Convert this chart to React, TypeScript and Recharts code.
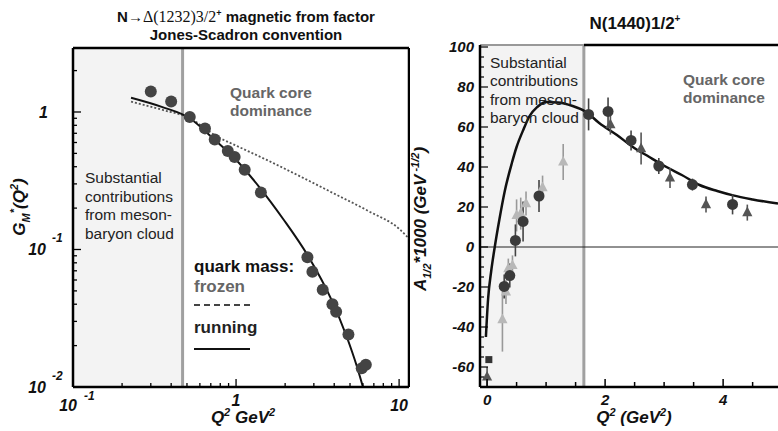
import React from "react";
import {
  ComposedChart,
  Line,
  Scatter,
  XAxis,
  YAxis,
  ReferenceArea,
  ReferenceLine,
  ErrorBar,
} from "recharts";

const FONT = "'Liberation Sans', Arial, Helvetica, sans-serif";

// ---- left panel: N -> Delta(1232) magnetic form factor (log-log) ----
const gmQ2 = [0.3, 0.4, 0.52, 0.645, 0.74, 0.89, 0.98, 1.13, 1.42, 2.74, 2.94, 3.4, 3.9, 4.11, 4.89, 5.9, 6.25];
const gmValue = [1.41, 1.19, 0.92, 0.76, 0.63, 0.52, 0.47, 0.38, 0.26, 0.0878, 0.069, 0.051, 0.04, 0.0353, 0.0241, 0.0137, 0.0145];

// running quark mass (solid)
const runningQ2 = [0.227, 0.35, 0.52, 0.72, 0.96, 1.4, 1.95, 2.8, 3.78, 4.78, 5.5, 6.0];
const runningValue = [1.27, 1.09, 0.9, 0.645, 0.473, 0.281, 0.166, 0.0875, 0.0451, 0.0231, 0.0142, 0.01];

// frozen quark mass (dotted)
const frozenQ2 = [0.227, 0.35, 0.52, 0.77, 1.0, 1.53, 2.5, 3.97, 6.5, 10.1, 11.5];
const frozenValue = [1.19, 1.04, 0.9, 0.66, 0.57, 0.45, 0.338, 0.256, 0.19, 0.14, 0.12];

const leftXTicks = [0.1, 0.2, 0.3, 0.4, 0.5, 0.6, 0.7, 0.8, 0.9, 1, 2, 3, 4, 5, 6, 7, 8, 9, 10];
const leftXMajor = [0.1, 1, 10];
const leftXLabels = [["10", "-1"], ["1", ""], ["10", ""]];
const leftYTicks = [0.01, 0.02, 0.03, 0.04, 0.05, 0.06, 0.07, 0.08, 0.09, 0.1, 0.2, 0.3, 0.4, 0.5, 0.6, 0.7, 0.8, 0.9, 1, 2];
const leftYMajor = [0.01, 0.1, 1];
const leftYLabels = [["10", "-2"], ["10", "-1"], ["1", ""]];

// ---- right panel: N(1440)1/2+ helicity amplitude A1/2 ----
const circleQ2 = [0.29, 0.385, 0.48, 0.61, 0.88, 1.72, 2.05, 2.44, 2.91, 3.48, 4.16];
const circleA = [-19.7, -14.3, 3.3, 12.8, 25.5, 66.3, 67.8, 53.3, 40.5, 31.2, 21.3];
const circleErr = [6, 6, 8, 10, 8, 8, 7, 5, 4, 3, 5];

const darkTriQ2 = [0.0, 2.09, 2.61, 3.1, 3.71, 4.41];
const darkTriA = [-65, 61.2, 49.2, 34.5, 21.2, 17.2];
const darkTriErr = [5, 5, 8, 5, 4, 4];

const lightTriQ2 = [0.26, 0.32, 0.36, 0.43, 0.5, 0.57, 0.66, 0.94, 1.29];
const lightTriA = [-36.3, -22.5, -10.8, -9.2, 15.8, 16.7, 21.7, 29.7, 42.5];
const lightTriErr = [16, 6, 5, 5, 8, 8, 6, 6, 9];

const squareQ2 = [0.03];
const squareA = [-56.3];

const curveQ2 = [-0.02, 0.017, 0.07, 0.13, 0.21, 0.3, 0.42, 0.5, 0.62, 0.72, 0.85, 1.0, 1.2, 1.45, 1.68, 1.9, 2.2, 2.47, 2.75, 3.04, 3.3, 3.6, 3.9, 4.17, 4.5, 4.93];
const curveA = [-45, -26, -12, 0, 14, 28, 42, 50, 59, 65.5, 70, 72.5, 72.3, 70.5, 67.5, 62, 56, 50, 45, 40, 36, 31, 28, 25.8, 23.8, 21.7];

const rightXTicks = [0, 0.5, 1, 1.5, 2, 2.5, 3, 3.5, 4, 4.5];
const rightXMajor = [0, 2, 4];
const rightYTicks = [-65, -60, -55, -50, -45, -40, -35, -30, -25, -20, -15, -10, -5, 0, 5, 10, 15, 20, 25, 30, 35, 40, 45, 50, 55, 60, 65, 70, 75, 80, 85, 90, 95, 100];
const rightYMajor = [-60, -40, -20, 0, 20, 40, 60, 80, 100];

const zip = (xs: number[], ys: number[], es?: number[]) =>
  xs.map((x, i) => ({ x, y: ys[i], err: es ? es[i] : 0 }));

const gmPoints = zip(gmQ2, gmValue);
const running = zip(runningQ2, runningValue);
const frozen = zip(frozenQ2, frozenValue);
const circles = zip(circleQ2, circleA, circleErr);
const darkTris = zip(darkTriQ2, darkTriA, darkTriErr);
const lightTris = zip(lightTriQ2, lightTriA, lightTriErr);
const squares = zip(squareQ2, squareA);
const curve = zip(curveQ2, curveA);

const tickText = {
  fontFamily: FONT,
  fontWeight: 700,
  fontStyle: "italic" as const,
  fill: "#111",
};

function LeftXTick(props: any) {
  const { x, y, payload } = props;
  const idx = leftXMajor.indexOf(payload.value);
  const major = idx >= 0;
  const lab = major ? leftXLabels[idx] : null;
  return (
    <g>
      <line x1={x} x2={x} y1={y} y2={y - (major ? 8 : 4)} stroke="#000" strokeWidth={1.3} />
      {lab && lab[1] ? (
        <>
          <text x={x + 4} y={y + 24} textAnchor="end" fontSize={16} {...tickText}>{lab[0]}</text>
          <text x={x + 11} y={y + 13} textAnchor="start" fontSize={12} {...tickText}>{lab[1]}</text>
        </>
      ) : lab ? (
        <text x={x} y={y + (payload.value === 1 ? 19 : 24)} textAnchor="middle" fontSize={16} {...tickText}>{lab[0]}</text>
      ) : null}
    </g>
  );
}

function LeftYTick(props: any) {
  const { x, y, payload } = props;
  const idx = leftYMajor.indexOf(payload.value);
  const major = idx >= 0;
  const lab = major ? leftYLabels[idx] : null;
  return (
    <g>
      <line x1={x} x2={x + (major ? 8 : 4)} y1={y} y2={y} stroke="#000" strokeWidth={1.3} />
      {lab && lab[1] ? (
        <>
          <text x={x - 27} y={y + 6} textAnchor="end" fontSize={16} {...tickText}>{lab[0]}</text>
          <text x={x - 21} y={y - 7} textAnchor="start" fontSize={12} {...tickText}>{lab[1]}</text>
        </>
      ) : lab ? (
        <text x={x - 25} y={y + 6} textAnchor="end" fontSize={16} {...tickText}>{lab[0]}</text>
      ) : null}
    </g>
  );
}

function RightXTick(props: any) {
  const { x, y, payload } = props;
  const major = rightXMajor.includes(payload.value);
  return (
    <g>
      <line x1={x} x2={x} y1={y} y2={y - (major ? 8 : 5)} stroke="#000" strokeWidth={1.5} />
      {major && (
        <text x={x} y={y + 18} textAnchor="middle" fontSize={15} {...tickText}>{payload.value}</text>
      )}
    </g>
  );
}

function RightYTick(props: any) {
  const { x, y, payload } = props;
  const major = rightYMajor.includes(payload.value);
  return (
    <g>
      <line x1={x} x2={x + (major ? 8 : 4)} y1={y} y2={y} stroke="#000" strokeWidth={1.2} />
      {major && (
        <text x={x - 6} y={y + 5} textAnchor="end" fontSize={15} {...tickText}>{payload.value}</text>
      )}
    </g>
  );
}

const dot = (color: string, r: number) => (p: any) =>
  <circle cx={p.cx} cy={p.cy} r={r} fill={color} />;
const tri = (color: string, s: number) => (p: any) =>
  (
    <polygon
      points={`${p.cx},${p.cy - s} ${p.cx - s * 0.85},${p.cy + s * 0.6} ${p.cx + s * 0.85},${p.cy + s * 0.6}`}
      fill={color}
    />
  );
const square = (color: string, s: number) => (p: any) =>
  <rect x={p.cx - s / 2} y={p.cy - s / 2} width={s} height={s} fill={color} />;

const abs = (left: number, top: number, extra: React.CSSProperties = {}): React.CSSProperties => ({
  position: "absolute",
  left,
  top,
  fontFamily: FONT,
  pointerEvents: "none",
  whiteSpace: "nowrap",
  ...extra,
});

export default function App() {
  return (
    <div style={{ position: "absolute", left: 0, top: 0, width: 778, height: 431, background: "#fff", overflow: "hidden" }}>
      {/* Left chart */}
      <div style={{ position: "absolute", left: 0, top: 0 }}>
        <ComposedChart width={410} height={431} margin={{ top: 48, right: 1, bottom: 0, left: 0 }}>
          <ReferenceArea x1={0.1} x2={0.47} y1={0.01} y2={2.92} fill="#f3f3f3" fillOpacity={1} stroke="none" />
          <ReferenceLine x={0.47} stroke="#a0a0a0" strokeWidth={3} />
          <XAxis
            dataKey="x"
            type="number"
            scale="log"
            domain={[0.1, 11.5]}
            allowDataOverflow
            ticks={leftXTicks}
            interval={0}
            tick={LeftXTick}
            tickLine={false}
            tickSize={0}
            tickMargin={0}
            height={44}
            axisLine={{ stroke: "#000", strokeWidth: 2.5 }}
          />
          <YAxis
            dataKey="y"
            type="number"
            scale="log"
            domain={[0.01, 2.92]}
            allowDataOverflow
            ticks={leftYTicks}
            interval={0}
            tick={LeftYTick}
            tickLine={false}
            tickSize={0}
            tickMargin={0}
            width={73}
            axisLine={{ stroke: "#000", strokeWidth: 2.5 }}
          />
          <ReferenceLine y={2.92} stroke="#000" strokeWidth={2.5} />
          <ReferenceLine x={11.5} stroke="#000" strokeWidth={2.5} />
          <Line data={frozen} dataKey="y" type="monotone" stroke="#555" strokeWidth={1.8} strokeDasharray="2 2" dot={false} isAnimationActive={false} />
          <Line data={running} dataKey="y" type="monotone" stroke="#111" strokeWidth={2} dot={false} isAnimationActive={false} />
          <Scatter data={gmPoints} fill="#444" shape={dot("#444", 6)} isAnimationActive={false} />
        </ComposedChart>
      </div>

      {/* Right chart */}
      <div style={{ position: "absolute", left: 410, top: 0 }}>
        <ComposedChart width={368} height={431} margin={{ top: 45, right: 0, bottom: 0, left: 0 }}>
          <ReferenceArea x1={-0.12} x2={1.64} y1={-70} y2={101} fill="#f3f3f3" fillOpacity={1} stroke="none" />
          <ReferenceLine x={1.64} stroke="#a0a0a0" strokeWidth={3} />
          <ReferenceLine y={0} stroke="#222" strokeWidth={1} />
          <XAxis
            dataKey="x"
            type="number"
            domain={[-0.12, 4.93]}
            allowDataOverflow
            ticks={rightXTicks}
            interval={0}
            tick={RightXTick}
            tickLine={false}
            tickSize={0}
            tickMargin={0}
            height={44}
            axisLine={{ stroke: "#000", strokeWidth: 2.5 }}
          />
          <YAxis
            dataKey="y"
            type="number"
            domain={[-70, 101]}
            allowDataOverflow
            ticks={rightYTicks}
            interval={0}
            tick={RightYTick}
            tickLine={false}
            tickSize={0}
            tickMargin={0}
            width={70}
            axisLine={{ stroke: "#000", strokeWidth: 2.5 }}
          />
          <ReferenceLine segment={[{ x: 1.64, y: 101 }, { x: 4.93, y: 101 }]} stroke="#000" strokeWidth={2.5} />
          <ReferenceLine segment={[{ x: -0.12, y: 101 }, { x: 1.64, y: 101 }]} stroke="#999" strokeWidth={2} />
          <Line data={curve} dataKey="y" type="monotone" stroke="#111" strokeWidth={2.5} dot={false} isAnimationActive={false} />
          <Scatter data={lightTris} fill="#b8b8b8" shape={tri("#b8b8b8", 6)} isAnimationActive={false}>
            <ErrorBar dataKey="err" direction="y" width={0} stroke="#999" strokeWidth={1.6} isAnimationActive={false} />
          </Scatter>
          <Scatter data={darkTris} fill="#555" shape={tri("#555", 6)} isAnimationActive={false}>
            <ErrorBar dataKey="err" direction="y" width={0} stroke="#555" strokeWidth={1.6} isAnimationActive={false} />
          </Scatter>
          <Scatter data={circles} fill="#3a3a3a" shape={dot("#3a3a3a", 5.5)} isAnimationActive={false}>
            <ErrorBar dataKey="err" direction="y" width={0} stroke="#444" strokeWidth={1.6} isAnimationActive={false} />
          </Scatter>
          <Scatter data={squares} fill="#333" shape={square("#333", 7)} isAnimationActive={false} />
        </ComposedChart>
      </div>

      {/* titles */}
      <div style={abs(96, 4, { width: 300, textAlign: "center", fontWeight: 700, fontSize: 15, lineHeight: "18px", color: "#111" })}>
        N→<span style={{ fontFamily: "'Liberation Serif', 'Times New Roman', serif", fontWeight: 400, fontSize: 16 }}>Δ(1232)3/2</span>
        <sup style={{ fontSize: 9 }}>+</sup> magnetic from factor
        <br />
        Jones-Scadron convention
      </div>
      <div style={abs(535, 8, { width: 200, textAlign: "center", fontWeight: 700, fontSize: 17, lineHeight: "22px", color: "#111" })}>
        N(1440)1/2<sup style={{ fontSize: 10 }}>+</sup>
      </div>

      {/* left annotations */}
      <div style={abs(230, 84, { fontWeight: 700, fontSize: 15.5, lineHeight: "18px", color: "#666" })}>
        Quark core
        <br />
        dominance
      </div>
      <div style={abs(85, 169, { fontSize: 15.5, lineHeight: "18.5px", color: "#222" })}>
        Substantial
        <br />
        contributions
        <br />
        from meson-
        <br />
        baryon cloud
      </div>
      <div style={abs(194, 257, { fontWeight: 700, fontSize: 17, lineHeight: "20px", color: "#111" })}>quark mass:</div>
      <div style={abs(194, 277, { fontWeight: 700, fontSize: 17, lineHeight: "20px", color: "#666" })}>frozen</div>
      <div style={abs(194, 304, { width: 56, borderTop: "2px dashed #444" })} />
      <div style={abs(194, 318, { fontWeight: 700, fontSize: 17, lineHeight: "20px", color: "#222" })}>running</div>
      <div style={abs(194, 348, { width: 56, borderTop: "2px solid #111" })} />

      {/* right annotations */}
      <div style={abs(490, 54, { fontSize: 15.5, lineHeight: "18.3px", color: "#222" })}>
        Substantial
        <br />
        contributions
        <br />
        from meson-
        <br />
        baryon cloud
      </div>
      <div style={abs(683, 71, { fontWeight: 700, fontSize: 15.5, lineHeight: "17.5px", color: "#666" })}>
        Quark core
        <br />
        dominance
      </div>

      {/* axis titles */}
      <div style={abs(20, 207, { transform: "translate(-50%, -50%) rotate(-90deg)", fontWeight: 700, fontStyle: "italic", fontSize: 17, color: "#111" })}>
        G<sub style={{ fontSize: 11 }}>M</sub>
        <sup style={{ fontSize: 11 }}>*</sup>(Q<sup style={{ fontSize: 11 }}>2</sup>)
      </div>
      <div style={abs(421, 219, { transform: "translate(-50%, -50%) rotate(-90deg)", fontWeight: 700, fontStyle: "italic", fontSize: 17, color: "#111" })}>
        A<sub style={{ fontSize: 11 }}>1/2</sub>*1000 (GeV<sup style={{ fontSize: 11 }}> -1/2</sup>)
      </div>
      <div style={abs(243, 418, { transform: "translate(-50%, -50%)", fontWeight: 700, fontStyle: "italic", fontSize: 17, lineHeight: "18px", color: "#111" })}>
        Q<sup style={{ fontSize: 11, lineHeight: 0 }}>2</sup> GeV<sup style={{ fontSize: 11, lineHeight: 0 }}>2</sup>
      </div>
      <div style={abs(634, 418, { transform: "translate(-50%, -50%)", fontWeight: 700, fontStyle: "italic", fontSize: 17, lineHeight: "18px", color: "#111" })}>
        Q<sup style={{ fontSize: 11, lineHeight: 0 }}>2</sup> (GeV<sup style={{ fontSize: 11, lineHeight: 0 }}>2</sup>)
      </div>
    </div>
  );
}
